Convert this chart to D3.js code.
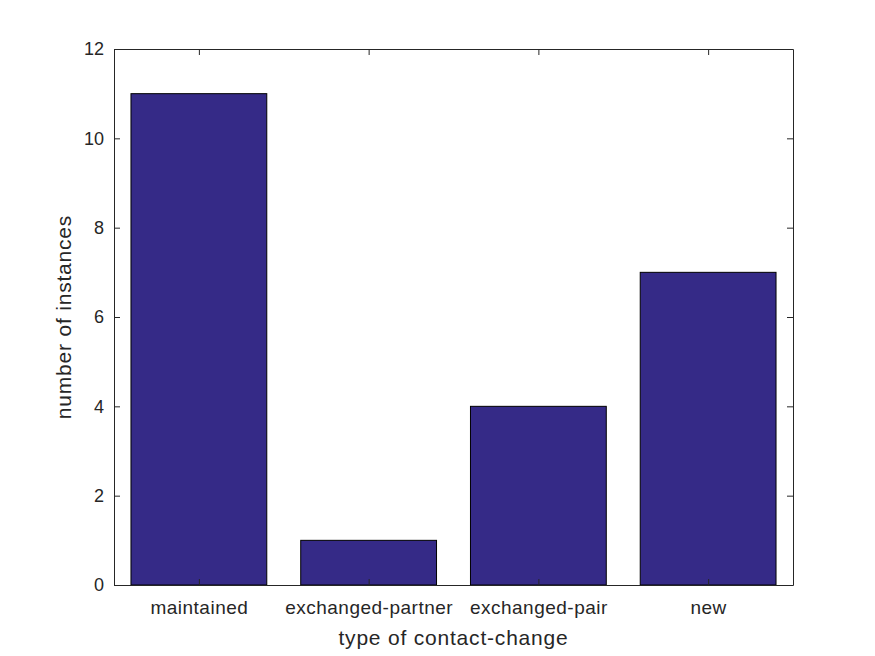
<!DOCTYPE html>
<html>
<head>
<meta charset="utf-8">
<script src="https://cdn.jsdelivr.net/npm/d3@7"></script>
<style>
  body { margin: 0; background: #fff; }
  text { font-family: "Liberation Sans", Arial, sans-serif; fill: #262626; }
</style>
</head>
<body>
<div id="chart"></div>
<script>
// chart data
const categories = ["maintained", "exchanged-partner", "exchanged-pair", "new"];
const counts = [11, 1, 4, 7];
const yTicks = [0, 2, 4, 6, 8, 10, 12];

const width = 875, height = 656;
const margin = {left: 114, right: 82, top: 49, bottom: 71};

const svg = d3.select("#chart")
  .append("svg")
  .attr("width", width)
  .attr("height", height);

// x scale: categories centered like matlab bar (xlim 0.5..4.5)
const xScale = d3.scaleLinear()
  .domain([0.5, categories.length + 0.5])
  .range([margin.left, width - margin.right]);

const yScale = d3.scaleLinear()
  .domain([0, 12])
  .range([height - margin.bottom, margin.top]);

const barW = (xScale(1) - xScale(0)) * 0.8;

// bars
svg.selectAll("rect.bar")
  .data(counts)
  .enter()
  .append("rect")
    .attr("class", "bar")
    .attr("x", (d, i) => xScale(i + 1) - barW / 2)
    .attr("y", d => yScale(d))
    .attr("width", barW)
    .attr("height", d => yScale(0) - yScale(d))
    .attr("fill", "#352a87")
    .attr("stroke", "#000")
    .attr("stroke-width", 1);

// bottom axis
const xAxis = d3.axisBottom(xScale)
  .tickValues(d3.range(1, categories.length + 1))
  .tickFormat((d) => categories[d - 1])
  .tickSizeInner(-6)
  .tickSizeOuter(0)
  .tickPadding(16);

svg.append("g")
  .attr("transform", `translate(0,${yScale(0)})`)
  .call(xAxis)
  .call(g => g.selectAll("text").attr("font-size", "19px").attr("letter-spacing", "0.5px").style("fill", "#262626"))
  .call(g => g.selectAll("line, path").attr("stroke", "#262626"));

// top axis (ticks only)
svg.append("g")
  .attr("transform", `translate(0,${yScale(12)})`)
  .call(d3.axisTop(xScale).tickValues(d3.range(1, categories.length + 1)).tickFormat("").tickSizeInner(-6).tickSizeOuter(0))
  .call(g => g.selectAll("line, path").attr("stroke", "#262626"));

// left axis
svg.append("g")
  .attr("transform", `translate(${margin.left},0)`)
  .call(d3.axisLeft(yScale).tickValues(yTicks).tickSizeInner(-6).tickSizeOuter(0).tickPadding(10))
  .call(g => g.selectAll("text").attr("font-size", "18px").style("fill", "#262626"))
  .call(g => g.selectAll("line, path").attr("stroke", "#262626"));

// right axis (ticks only)
svg.append("g")
  .attr("transform", `translate(${width - margin.right},0)`)
  .call(d3.axisRight(yScale).tickValues(yTicks).tickFormat("").tickSizeInner(-6).tickSizeOuter(0))
  .call(g => g.selectAll("line, path").attr("stroke", "#262626"));

// axis labels
svg.append("text")
  .attr("x", (margin.left + width - margin.right) / 2)
  .attr("y", 645)
  .attr("text-anchor", "middle")
  .attr("font-size", "21px")
  .attr("letter-spacing", "0.8px")
  .text("type of contact-change");

svg.append("text")
  .attr("transform", `translate(71,${(margin.top + height - margin.bottom) / 2}) rotate(-90)`)
  .attr("text-anchor", "middle")
  .attr("font-size", "21px")
  .attr("letter-spacing", "0.8px")
  .text("number of instances");
</script>
</body>
</html>
